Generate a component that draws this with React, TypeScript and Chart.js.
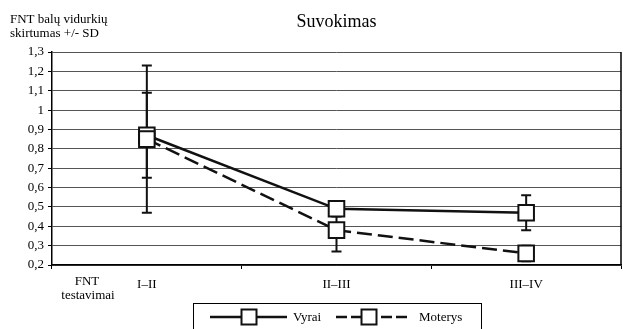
import React, { useEffect, useRef } from "react";
import { Chart, registerables } from "chart.js";

Chart.register(...registerables);

const categories = ["I–II", "II–III", "III–IV"];
const vyraiMeans = [0.87, 0.49, 0.47];
const vyraiSD = [0.22, 0.04, 0.09];
const moterysMeans = [0.85, 0.38, 0.26];
const moterysSD = [0.38, 0.11, 0.04];
const yMin = 0.2;
const yMax = 1.3;
const yStep = 0.1;

const FONT = "'Liberation Serif', 'Times New Roman', serif";

const errorBarPlugin = {
  id: "errorBars",
  beforeDatasetsDraw(chart: any) {
    const { ctx } = chart;
    const xs = chart.scales.x;
    const ys = chart.scales.y;
    const series = [
      { m: vyraiMeans, s: vyraiSD },
      { m: moterysMeans, s: moterysSD },
    ];
    ctx.save();
    ctx.strokeStyle = "#111";
    ctx.lineWidth = 2;
    series.forEach(({ m, s }) => {
      m.forEach((v, i) => {
        const x = xs.getPixelForValue(i);
        const yt = ys.getPixelForValue(v + s[i]);
        const yb = ys.getPixelForValue(v - s[i]);
        ctx.beginPath();
        ctx.moveTo(x, yt);
        ctx.lineTo(x, yb);
        ctx.moveTo(x - 5, yt);
        ctx.lineTo(x + 5, yt);
        ctx.moveTo(x - 5, yb);
        ctx.lineTo(x + 5, yb);
        ctx.stroke();
      });
    });
    ctx.restore();
  },
};

const decorPlugin = {
  id: "decor",
  afterDraw(chart: any) {
    const { ctx, chartArea } = chart;
    ctx.save();
    // right border
    ctx.strokeStyle = "#000";
    ctx.lineWidth = 1.5;
    ctx.beginPath();
    ctx.moveTo(chartArea.right, chartArea.top);
    ctx.lineTo(chartArea.right, chartArea.bottom);
    ctx.stroke();

    ctx.fillStyle = "#000";
    // title
    ctx.font = `18px ${FONT}`;
    ctx.textAlign = "center";
    ctx.textBaseline = "alphabetic";
    ctx.fillText("Suvokimas", (chartArea.left + chartArea.right) / 2, 27);

    // y title
    ctx.font = `13px ${FONT}`;
    ctx.textAlign = "left";
    ctx.fillText("FNT balų vidurkių", 10, 23);
    ctx.fillText("skirtumas +/- SD", 10, 37);

    // x title
    ctx.textAlign = "center";
    ctx.fillText("FNT", chartArea.left + 35, chartArea.bottom + 20);
    ctx.fillText("testavimai", chartArea.left + 36, chartArea.bottom + 34);

    // legend
    ctx.lineWidth = 1;
    ctx.strokeStyle = "#000";
    ctx.strokeRect(193.5, 303.5, 288, 40);

    const ly = 317;
    ctx.strokeStyle = "#111";
    ctx.lineWidth = 2.5;
    ctx.beginPath();
    ctx.moveTo(210, ly);
    ctx.lineTo(287, ly);
    ctx.stroke();
    ctx.setLineDash([11, 4]);
    ctx.beginPath();
    ctx.moveTo(336, ly);
    ctx.lineTo(410, ly);
    ctx.stroke();
    ctx.setLineDash([]);
    ctx.lineWidth = 2;
    [249, 369].forEach((cx) => {
      ctx.fillStyle = "#fff";
      ctx.fillRect(cx - 7.5, ly - 7.5, 15, 15);
      ctx.strokeRect(cx - 7.5, ly - 7.5, 15, 15);
    });
    ctx.fillStyle = "#000";
    ctx.font = `13px ${FONT}`;
    ctx.textAlign = "left";
    ctx.fillText("Vyrai", 293, 321);
    ctx.fillText("Moterys", 419, 321);
    ctx.restore();
  },
};

export default function App() {
  const ref = useRef<HTMLCanvasElement>(null);
  useEffect(() => {
    if (!ref.current) return;
    Chart.defaults.font.family = FONT;
    const chart = new Chart(ref.current, {
      type: "line",
      data: {
        labels: categories,
        datasets: [
          {
            label: "Vyrai",
            data: vyraiMeans,
            order: 1,
            borderColor: "#111",
            borderWidth: 2.5,
            pointStyle: "rect",
            pointRadius: 11,
            pointBackgroundColor: "#fff",
            pointBorderColor: "#111",
            pointBorderWidth: 2,
            tension: 0,
          },
          {
            label: "Moterys",
            data: moterysMeans,
            order: 0,
            borderColor: "#111",
            borderWidth: 2.5,
            borderDash: [15, 6],
            pointStyle: "rect",
            pointRadius: 11,
            pointBackgroundColor: "#fff",
            pointBorderColor: "#111",
            pointBorderWidth: 2,
            tension: 0,
          },
        ],
      },
      options: {
        responsive: false,
        animation: false,
        layout: { autoPadding: false, padding: { top: 52, right: 2, left: 0, bottom: 0 } },
        plugins: {
          legend: { display: false },
          title: { display: false },
          tooltip: { enabled: false },
        },
        scales: {
          x: {
            type: "category",
            offset: true,
            afterFit: (s: any) => {
              s.height = 64;
              s.paddingLeft = 0;
              s.paddingRight = 0;
            },
            grid: {
              offset: true,
              drawOnChartArea: false,
              drawTicks: true,
              tickLength: 4,
              tickColor: "#000",
            },
            border: { display: true, color: "#000", width: 1.5 },
            ticks: {
              color: "#000",
              padding: 8,
              font: { size: 13, family: FONT },
            },
          },
          y: {
            min: yMin,
            max: yMax,
            afterFit: (s: any) => {
              s.width = 52;
              s.paddingTop = 0;
              s.paddingBottom = 0;
            },
            grid: {
              color: "#555",
              lineWidth: 1,
              tickLength: 4,
              tickColor: "#000",
            },
            border: { display: true, color: "#000", width: 1.5 },
            ticks: {
              stepSize: yStep,
              color: "#000",
              padding: 4,
              font: { size: 13, family: FONT },
              callback: (v: any) => {
                const r = Math.round(Number(v) * 10) / 10;
                return Number.isInteger(r) ? String(r) : r.toFixed(1).replace(".", ",");
              },
            },
          },
        },
      },
      plugins: [errorBarPlugin, decorPlugin],
    });
    return () => chart.destroy();
  }, []);
  return (
    <div style={{ position: "fixed", left: 0, top: 0, width: 623, height: 329, background: "#fff" }}>
      <canvas ref={ref} width={623} height={329} />
    </div>
  );
}
